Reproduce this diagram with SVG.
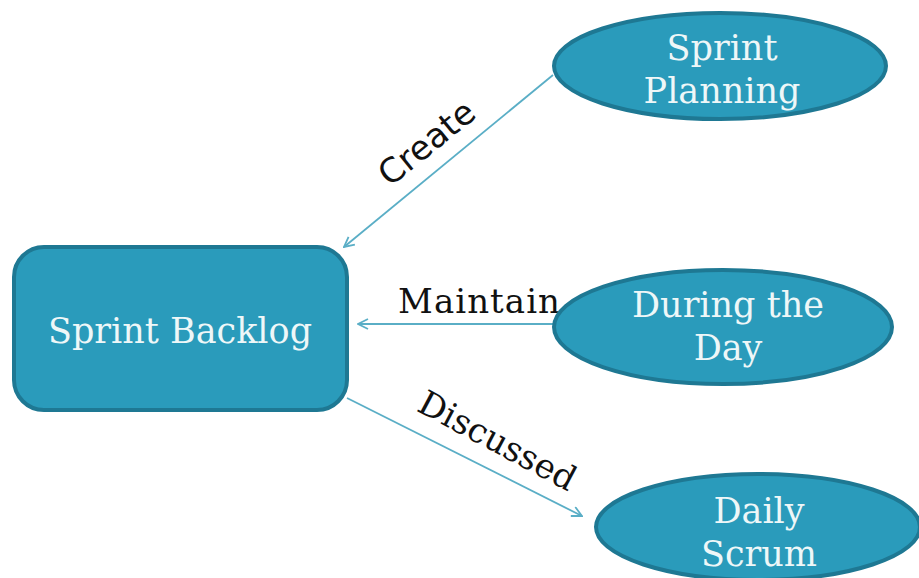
<svg xmlns="http://www.w3.org/2000/svg" width="919" height="578" viewBox="0 0 919 578">
<style>
.node{fill:#2a9bbb;stroke:#1e7893;stroke-width:4}
.nt{font-family:"DejaVu Serif","Liberation Serif",serif;font-size:35px;fill:#eef7f8;text-anchor:middle}
.lbl{font-family:"DejaVu Serif","Liberation Serif",serif;font-size:34px;fill:#111}
.sans{font-family:"DejaVu Sans","Liberation Sans",sans-serif}
.edge{stroke:#5aaec6;stroke-width:1.8;fill:none;marker-end:url(#arr)}
</style>
<defs>
<marker id="arr" viewBox="0 0 12 12" refX="11" refY="6" markerWidth="12" markerHeight="12" markerUnits="userSpaceOnUse" orient="auto">
<path d="M1,1 L11,6 L1,11" fill="none" stroke="#5aaec6" stroke-width="1.8"/>
</marker>
</defs>
<rect width="919" height="578" fill="#fff"/>
<g id="edges">
<line class="edge" x1="553" y1="75" x2="344" y2="247"/>
<line class="edge" x1="557" y1="324" x2="358" y2="324"/>
<line class="edge" x1="347" y1="398" x2="582" y2="516"/>
<text class="lbl sans" transform="translate(434,152) rotate(-39)" text-anchor="middle">Create</text>
<text class="lbl" x="398" y="313" font-size="31" textLength="162">Maintain</text>
<text class="lbl" transform="translate(492,451) rotate(28)" text-anchor="middle">Discussed</text>
</g>
<g id="sprint-backlog">
<rect class="node" x="14" y="247" width="333" height="163" rx="30"/>
<text class="nt" x="180" y="343">Sprint Backlog</text>
</g>
<g id="sprint-planning">
<ellipse class="node" cx="720" cy="66" rx="166" ry="53"/>
<text class="nt" x="722" y="60">Sprint</text>
<text class="nt" x="722" y="103">Planning</text>
</g>
<g id="during-the-day">
<ellipse class="node" cx="723" cy="327" rx="169" ry="57"/>
<text class="nt" x="728" y="317">During the</text>
<text class="nt" x="728" y="360">Day</text>
</g>
<g id="daily-scrum">
<ellipse class="node" cx="758" cy="527" rx="162" ry="53"/>
<text class="nt" x="759" y="523">Daily</text>
<text class="nt" x="759" y="566">Scrum</text>
</g>
</svg>
